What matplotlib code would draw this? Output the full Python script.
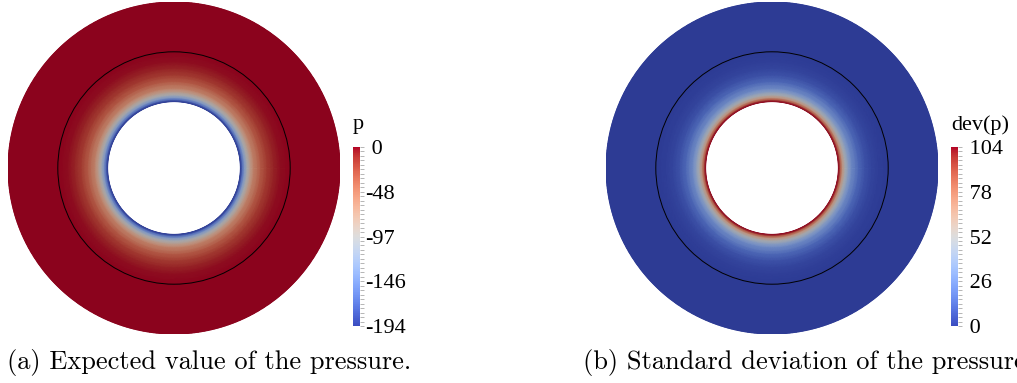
import numpy as np
import matplotlib
matplotlib.use("Agg")
import matplotlib.pyplot as plt
from matplotlib.colors import ListedColormap, Normalize
from matplotlib.cm import ScalarMappable
from matplotlib.patches import Circle

# radial profiles of the solution (radius in units of the inner radius)
radii = [1.0, 1.03, 1.06, 1.1, 1.15, 1.2, 1.3, 1.4, 1.5, 1.6, 1.75, 2.0, 2.5]
p_mean = [-194, -160, -130, -100, -75, -55, -32, -17, -8, -3, -0.5, 0, 0]
p_dev = [104, 85, 66, 50, 36, 26, 14, 7, 3.5, 1.5, 0.3, 0, 0]

p_range = (-194, 0)
dev_range = (0, 104)
p_ticklabels = ["-194", "-146", "-97", "-48", " 0"]
dev_ticklabels = [" 0", " 26", " 52", " 78", " 104"]

r_ring = 1.75   # interface circle
r_out = 2.5

W, H = 1017, 383
fig = plt.figure(figsize=(W / 100, H / 100), dpi=100)
fig.patch.set_facecolor("white")

def px_axes(x0, y0, w, h):
    return fig.add_axes([x0 / W, 1 - (y0 + h) / H, w / W, h / H])

# shaded surface colours are darker than the legend bar
base = plt.cm.coolwarm(np.linspace(0, 1, 256))[:, :3]
field_cmap = ListedColormap(base * 0.77)

theta = np.linspace(0, 2 * np.pi, 721)

def draw_field(ax, values, vrange):
    R, T = np.meshgrid(np.array(radii), theta)
    C = np.tile(np.array(values, dtype=float), (len(theta), 1))
    ax.pcolormesh(R * np.cos(T), R * np.sin(T), C, shading="gouraud",
                  cmap=field_cmap, vmin=vrange[0], vmax=vrange[1],
                  edgecolors="none", antialiased=False)
    ax.add_patch(Circle((0, 0), r_ring, fill=False, ec="black", lw=0.7))
    ax.set_xlim(-r_out, r_out)
    ax.set_ylim(-r_out, r_out)
    ax.set_aspect("equal")
    ax.axis("off")

def draw_bar(cax, vrange, labels, title, title_x):
    sm = ScalarMappable(norm=Normalize(*vrange), cmap=plt.cm.coolwarm)
    cb = fig.colorbar(sm, cax=cax)
    cb.outline.set_visible(False)
    ticks = np.linspace(vrange[0], vrange[1], len(labels))
    cb.set_ticks(ticks)
    cb.set_ticklabels(labels)
    cax.set_yticks(np.linspace(vrange[0], vrange[1], 41), minor=True)
    cax.tick_params(which="both", length=3, width=0.6, color="#aaaaaa",
                    labelsize=16, pad=1)
    for t in cax.get_yticklabels():
        t.set_family("Liberation Serif")
    fig.text(title_x / W, 1 - 125 / H, title, fontsize=16,
             family="Liberation Serif", ha="left", va="center")

ax_a = px_axes(8, 2, 332, 332)
draw_field(ax_a, p_mean, p_range)
draw_bar(px_axes(353, 147, 7, 179), p_range, p_ticklabels, "p", 353)

ax_b = px_axes(606, 2, 332, 332)
draw_field(ax_b, p_dev, dev_range)
draw_bar(px_axes(951, 147, 7, 179), dev_range, dev_ticklabels, "dev(p)", 951)

fig.text(7 / W, 1 - 362 / H, "(a) Expected value of the pressure.",
         fontsize=19, family="cmr10", ha="left", va="center")
fig.text(583 / W, 1 - 362 / H, "(b) Standard deviation of the pressure.",
         fontsize=19, family="cmr10", ha="left", va="center")

fig.savefig("out.png", dpi=100)
